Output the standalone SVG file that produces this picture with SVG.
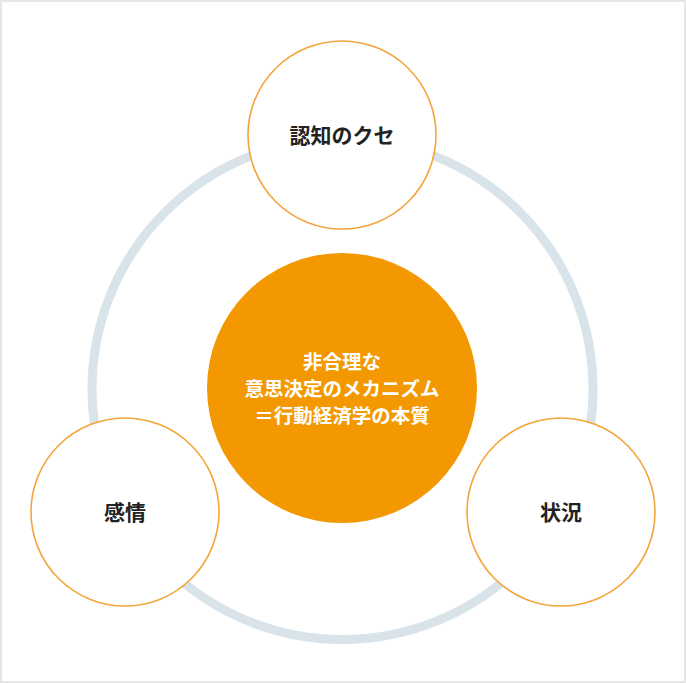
<svg xmlns="http://www.w3.org/2000/svg" width="686" height="683" viewBox="0 0 686 683">
  <style>
    .lbl { font-family: "Noto Sans CJK JP", "Noto Sans CJK SC", sans-serif; font-weight: bold; font-size: 21px; fill: #222222; text-anchor: middle; }
    .ctr { font-family: "Noto Sans CJK JP", "Noto Sans CJK SC", sans-serif; font-weight: bold; font-size: 19.5px; fill: #ffffff; text-anchor: middle; }
    .node { fill: #ffffff; stroke: #f4a43a; stroke-width: 1.6; }
  </style>
  <rect x="1" y="1" width="684" height="681" fill="#ffffff" stroke="#e6e6e6" stroke-width="2"/>
  <g id="connectors">
    <circle cx="342.5" cy="389" r="250.5" fill="none" stroke="#d9e3ea" stroke-width="9"/>
  </g>
  <g id="center">
    <circle cx="342" cy="388" r="135" fill="#f39800"/>
    <text class="ctr" x="342" y="368.5">非合理な</text>
    <text class="ctr" x="342" y="396">意思決定のメカニズム</text>
    <text class="ctr" x="342" y="422.5">＝行動経済学の本質</text>
  </g>
  <g id="node-cognition">
    <circle class="node" cx="342" cy="135" r="94"/>
    <text class="lbl" x="342" y="143">認知のクセ</text>
  </g>
  <g id="node-emotion">
    <circle class="node" cx="125" cy="512" r="94"/>
    <text class="lbl" x="125" y="520">感情</text>
  </g>
  <g id="node-situation">
    <circle class="node" cx="561" cy="512" r="94"/>
    <text class="lbl" x="561" y="520">状況</text>
  </g>
</svg>
